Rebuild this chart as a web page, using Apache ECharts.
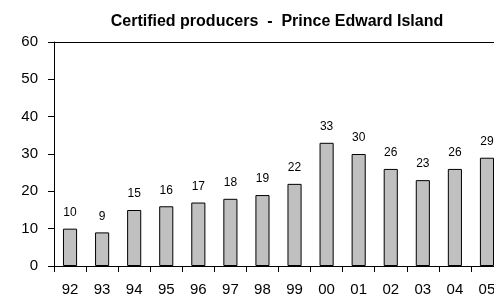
<!DOCTYPE html>
<html>
<head>
<meta charset="utf-8">
<script src="https://cdn.jsdelivr.net/npm/echarts@6/dist/echarts.min.js"></script>
<style>
  html, body { margin: 0; padding: 0; background: #fff; }
  #chart { width: 494px; height: 301px; }
</style>
</head>
<body>
<div id="chart"></div>
<script>
const years = ['92', '93', '94', '95', '96', '97', '98', '99', '00', '01', '02', '03', '04', '05'];
const producers = [10, 9, 15, 16, 17, 18, 19, 22, 33, 30, 26, 23, 26, 29];
const yTicks = { min: 0, max: 60, interval: 10 };

const chart = echarts.init(document.getElementById('chart'));
const font = 'Liberation Sans, Arial, sans-serif';

const option = {
  animation: false,
  title: {
    text: 'Certified producers  -  Prince Edward Island',
    left: 272,
    textAlign: 'center',
    top: 9,
    textStyle: { fontFamily: font, fontSize: 16, fontWeight: 'bold', color: '#000' }
  },
  grid: { left: 54, top: 42, width: 449, height: 224, outerBoundsMode: 'none', containLabel: false },
  xAxis: [
    {
      type: 'category',
      data: years,
      axisLine: { lineStyle: { color: '#000', width: 1 } },
      axisTick: { show: true, length: 6, lineStyle: { color: '#000' } },
      axisLabel: { fontFamily: font, fontSize: 15, color: '#000', margin: 16 }
    },
    {
      type: 'category',
      position: 'top',
      data: years,
      axisLine: { show: true, lineStyle: { color: '#000', width: 1 } },
      axisTick: { show: false },
      axisLabel: { show: false }
    }
  ],
  yAxis: {
    type: 'value',
    min: yTicks.min,
    max: yTicks.max,
    interval: yTicks.interval,
    axisLine: { show: true, lineStyle: { color: '#000', width: 1 } },
    axisTick: { show: true, length: 6, lineStyle: { color: '#000' } },
    splitLine: { show: false },
    axisLabel: { fontFamily: font, fontSize: 15, color: '#000', margin: 16 }
  },
  series: [
    {
      type: 'bar',
      data: producers,
      barWidth: '44%',
      itemStyle: { color: '#c0c0c0', borderColor: '#000', borderWidth: 1 },
      label: {
        show: true,
        position: 'top',
        distance: 10,
        fontFamily: font,
        fontSize: 12,
        color: '#000'
      }
    }
  ]
};

chart.setOption(option);
</script>
</body>
</html>
